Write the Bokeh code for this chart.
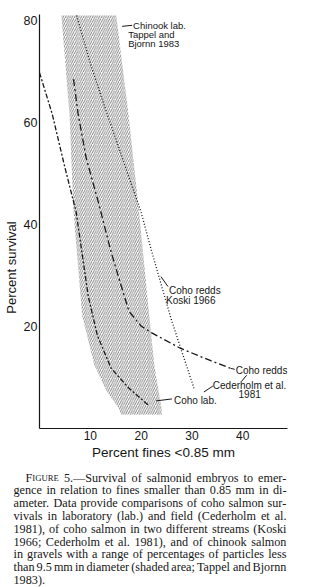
import math
from bokeh.plotting import figure
from bokeh.layouts import column, row
from bokeh.models import Range1d, FixedTicker, Label, ColumnDataSource, Plot
from bokeh.core.properties import field, value
from bokeh.embed import file_html
from bokeh.resources import INLINE

# ---------------- data ----------------
x_ticks = [10, 20, 30, 40]
y_ticks = [20, 40, 60, 80]

# Coho lab. (Cederholm et al. 1981)
coho_lab_x = [0.0, 2.5, 4.9, 7.2, 8.2, 9.6, 11.4, 14.1, 17.6, 21.4]
coho_lab_y = [69.8, 61.7, 51.6, 42.5, 35.6, 25.9, 18.2, 11.8, 7.9, 4.6]

# Coho redds (Cederholm et al. 1981)
coho_redds_ced_x = [6.7, 7.6, 9.2, 11.6, 14.1, 16.1, 17.6, 20.0, 22.0, 27.8, 33.7, 37.6]
coho_redds_ced_y = [68.5, 61.7, 53.0, 44.3, 34.6, 27.9, 23.0, 20.1, 18.8, 15.7, 13.3, 11.8]

# Coho redds (Koski 1966)
coho_redds_koski_x = [7.3, 10.2, 13.1, 20.0, 22.0, 23.9, 25.9, 27.8, 30.4]
coho_redds_koski_y = [81.0, 71.0, 62.3, 42.4, 35.0, 28.4, 21.5, 15.7, 7.9]

# Chinook lab. (Tappel and Bjornn 1983) shaded band
chinook_y = [81.0, 61.7, 42.4, 22.1, 12.4, 7.5, 4.1, 2.7]
chinook_left = [4.3, 5.9, 6.7, 8.4, 10.8, 13.1, 15.5, 16.1]
chinook_right = [15.1, 17.5, 19.6, 21.6, 22.6, 23.4, 24.0, 24.1]

caption_lines = [
    "FIGURE 5.\u2014Survival of salmonid embryos to emer-",
    "gence in relation to fines smaller than 0.85 mm in di-",
    "ameter. Data provide comparisons of coho salmon sur-",
    "vivals in laboratory (lab.) and field (Cederholm et al.",
    "1981), of coho salmon in two different streams (Koski",
    "1966; Cederholm et al. 1981), and of chinook salmon",
    "in gravels with a range of percentages of particles less",
    "than 9.5 mm in diameter (shaded area; Tappel and Bjornn",
    "1983).",
]

# ---------------- layout ----------------
W, H = 329, 587
HP = 462                                   # chart height
SW = 20                                    # strip holding the y title
FL, FR, FT, FB = 38, 287, 14, 434          # frame edges in window pixels
X_END, Y_END = 48.8, 81.2
XS = (FR - FL) / X_END
YS = (FB - FT) / Y_END


def dx(px):
    return (px - FL) / XS


def dy(py):
    return (FB - py) / YS


INK = "#161616"
SANS = "Liberation Sans"
SERIF = "Liberation Serif"
HAS_ALIGN = "frame_align" in Plot.properties()


def bare(fig):
    fig.outline_line_color = None
    fig.xgrid.visible = False
    fig.ygrid.visible = False
    fig.background_fill_color = "white"
    fig.border_fill_color = "white"
    if HAS_ALIGN:
        fig.frame_align = False


p = figure(width=W - SW, height=HP, x_range=Range1d(0, X_END), y_range=Range1d(0, Y_END),
           output_backend="svg", toolbar_location=None,
           min_border_left=FL - SW, min_border_right=W - FR,
           min_border_top=FT, min_border_bottom=HP - FB)
bare(p)

for ax, ticks, size, standoff in ((p.xaxis, x_ticks, "12px", 2), (p.yaxis, y_ticks, "12.5px", 2)):
    ax.ticker = FixedTicker(ticks=ticks)
    ax.major_tick_line_color = None
    ax.minor_tick_line_color = None
    ax.major_tick_in = 0
    ax.major_tick_out = 0
    ax.axis_line_color = INK
    ax.axis_line_width = 1.2
    ax.major_label_standoff = standoff
    ax.major_label_text_font = SANS
    ax.major_label_text_font_size = size
    ax.major_label_text_color = INK

p.xaxis.axis_label = "Percent fines <0.85 mm"
p.xaxis.axis_label_text_font = SANS
p.xaxis.axis_label_text_font_size = "13.5px"
p.xaxis.axis_label_text_font_style = "normal"
p.xaxis.axis_label_text_color = INK
p.xaxis.axis_label_standoff = 2

# shaded chinook band
p.harea(y=chinook_y, x1=chinook_left, x2=chinook_right,
        fill_color="white", fill_alpha=0.0,
        hatch_pattern="/", hatch_scale=4.5, hatch_weight=0.6, hatch_color="#2a2a2a")

# curves
p.line(coho_lab_x, coho_lab_y, line_color=INK, line_width=1.3, line_dash="5 2 2 2")
p.line(coho_redds_ced_x, coho_redds_ced_y, line_color=INK, line_width=1.3, line_dash="7 3 2 3")
p.line(coho_redds_koski_x, coho_redds_koski_y, line_color=INK, line_width=1.3, line_dash="1 2")

# leader lines (pixel layout)
leaders = [((121, 26), (131, 25)),
           ((160, 280), (167, 290)),
           ((203, 397), (212, 391)),
           ((241, 386), (246, 380)),
           ((155, 406), (171, 404)),
           ((230, 373), (234, 374))]
p.segment(x0=[dx(a[0]) for a, b in leaders], y0=[dy(a[1]) for a, b in leaders],
          x1=[dx(b[0]) for a, b in leaders], y1=[dy(b[1]) for a, b in leaders],
          line_color=INK, line_width=1)

# in-plot labels (pixel layout: left x, centre y, size)
labels = [
    ("Chinook lab.", 132, 25, "9.5px", "left"),
    ("Tappel and", 127, 34.5, "9.5px", "left"),
    ("Bjornn 1983", 127, 43.5, "9.5px", "left"),
    ("Coho redds", 168, 294, "10px", "left"),
    ("Koski 1966", 165, 304, "10px", "left"),
    ("Coho redds", 235, 375, "10px", "left"),
    ("Cederholm et al.", 212, 390, "10px", "left"),
    ("1981", 249, 399, "10px", "center"),
    ("Coho lab.", 173, 405.5, "10px", "left"),
]
for txt, px, py, fs, al in labels:
    p.add_layout(Label(x=dx(px), y=dy(py), text=txt, text_font=SANS, text_font_size=fs,
                       text_color=INK, text_align=al, text_baseline="middle"))

# ---------------- y title strip ----------------
s = figure(width=SW, height=HP, x_range=Range1d(0, SW), y_range=Range1d(HP, 0),
           output_backend="svg", toolbar_location=None, x_axis_type=None, y_axis_type=None,
           min_border=0, min_border_left=0, min_border_right=0, min_border_top=0,
           min_border_bottom=0)
bare(s)
s.text(x=[11], y=[267], text=["Percent survival"], angle=math.pi / 2,
       text_font=value(SANS), text_font_size="13px", text_color=INK,
       text_align="center", text_baseline="middle")

# ---------------- caption (justified, Times metrics) ----------------
TW = {" ": 250, "(": 333, ")": 333, ",": 250, "-": 333, ".": 250, ";": 278, "\u2014": 1000,
      "A": 722, "B": 667, "C": 667, "D": 722, "E": 611, "F": 556, "G": 722, "H": 722, "I": 333,
      "J": 389, "K": 722, "L": 611, "M": 889, "N": 722, "O": 722, "P": 556, "Q": 722, "R": 667,
      "S": 556, "T": 611, "U": 722, "V": 722, "W": 944, "X": 722, "Y": 722, "Z": 611,
      "a": 444, "b": 500, "c": 444, "d": 500, "e": 444, "f": 333, "g": 500, "h": 500, "i": 278,
      "j": 278, "k": 500, "l": 278, "m": 778, "n": 500, "o": 500, "p": 500, "q": 500, "r": 333,
      "s": 389, "t": 278, "u": 500, "v": 500, "w": 722, "x": 500, "y": 500, "z": 444}
for d in "0123456789":
    TW[d] = 500

CS = 12.2      # caption font size px
SC = 8.7       # small caps size
LEFT, INDENT, RIGHT = 13, 25, 286
HC = H - HP
BASE0, LEAD = 477 - HP, 12.8


def tw(t, size):
    return sum(TW.get(ch, 500) for ch in t) * size / 1000.0


cx, cy, ct, cs = [], [], [], []
for i, line in enumerate(caption_lines):
    words = line.split(" ")
    widths = [tw("F", CS) + tw("IGURE", SC) if w == "FIGURE" else tw(w, CS) for w in words]
    x0 = INDENT if i == 0 else LEFT
    if i == len(caption_lines) - 1 or len(words) == 1:
        gap = tw(" ", CS)
    else:
        gap = (RIGHT - x0 - sum(widths)) / (len(words) - 1)
    base = BASE0 + LEAD * i
    x = x0
    for w, wd in zip(words, widths):
        if w == "FIGURE":
            cx += [x, x + tw("F", CS)]
            cy += [base, base]
            ct += ["F", "IGURE"]
            cs += ["%.1fpx" % CS, "%.1fpx" % SC]
        else:
            cx.append(x)
            cy.append(base)
            ct.append(w)
            cs.append("%.1fpx" % CS)
        x += wd + gap

c = figure(width=W, height=HC, x_range=Range1d(0, W), y_range=Range1d(HC, 0),
           output_backend="svg", toolbar_location=None, x_axis_type=None, y_axis_type=None,
           min_border=0, min_border_left=0, min_border_right=0, min_border_top=0,
           min_border_bottom=0)
bare(c)

cap_src = ColumnDataSource(dict(x=cx, y=cy, text=ct, size=cs))
c.text(x="x", y="y", text="text", source=cap_src, text_font=value(SERIF),
       text_font_size=field("size"), text_color=INK, text_align="left",
       text_baseline="alphabetic")

layout = column(row(s, p, spacing=0), c, spacing=0)
open("out.html", "w").write(file_html(layout, INLINE))
